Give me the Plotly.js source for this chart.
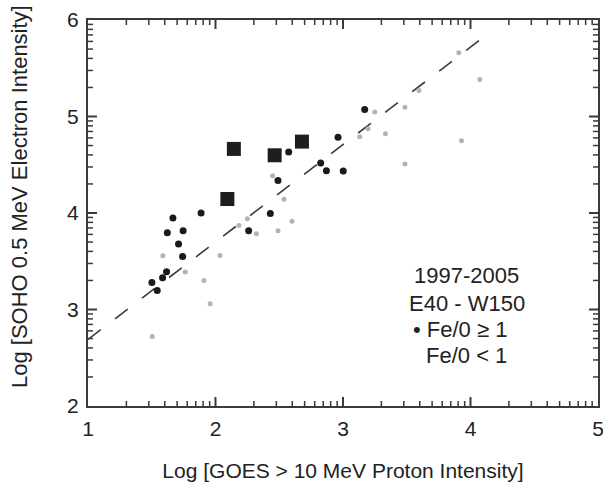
<!DOCTYPE html>
<html>
<head>
<meta charset="utf-8">
<script src="https://cdn.plot.ly/plotly-3.0.1.min.js"></script>
<style>html,body{margin:0;padding:0;background:#fff;}#chart{width:603px;height:492px;}</style>
</head>
<body>
<div id="chart"></div>
<script>
// Fe/O >= 1 (black circles)
const blackX = [1.501, 1.543, 1.585, 1.616, 1.622, 1.666, 1.710, 1.746, 1.742, 1.887, 2.260, 2.430, 2.490, 2.574, 2.825, 2.870, 3.002, 2.961, 3.170];
const blackY = [3.280, 3.197, 3.329, 3.391, 3.796, 3.948, 3.678, 3.816, 3.550, 4.000, 3.816, 3.996, 4.338, 4.633, 4.517, 4.439, 4.434, 4.786, 5.072];
// Fe/O < 1 (grey dots)
const greyX = [1.504, 1.587, 1.763, 1.909, 1.958, 2.035, 2.184, 2.250, 2.320, 2.490, 2.600, 2.537, 2.448, 3.131, 3.196, 3.249, 3.333, 3.486, 3.486, 3.596, 3.908, 3.929, 4.073];
const greyY = [2.720, 3.557, 3.388, 3.301, 3.059, 3.560, 3.871, 3.941, 3.785, 3.816, 3.915, 4.143, 4.387, 4.791, 4.874, 5.046, 4.820, 5.095, 4.508, 5.269, 5.660, 4.750, 5.383];
// large squares
const squareX = [2.093, 2.144, 2.464, 2.678];
const squareY = [4.145, 4.664, 4.598, 4.740];
// dashed fit line
const fitX = [1.0, 4.15];
const fitY = [2.69, 5.87];

const xTickVals = [1, 2, 3, 4, 5];
const yTickVals = [2, 3, 4, 5, 6];
const legendLines = ["1997-2005", "E40 - W150", "\u2022 Fe/0 \u2265 1", "Fe/0 < 1"];
const xTitle = 'Log [GOES > 10 MeV Proton Intensity]';
const yTitle = 'Log [SOHO 0.5 MeV Electron Intensity]';

function logMinor(lo, hi) {
  const v = [];
  for (let n = lo; n < hi; n++) for (let k = 2; k <= 9; k++) v.push(n + Math.log10(k));
  return v;
}

const FONT = 'Liberation Sans, Arial, sans-serif';
const AX = '#3a3a36';
const W = 603, H = 492, M = {l: 88, r: 5, t: 20, b: 86};
const PW = W - M.l - M.r, PH = H - M.t - M.b;

function axis(range, vals, standoff) {
  return {
    range: range, showgrid: false, zeroline: false, showline: true, linecolor: AX, linewidth: 2,
    mirror: true, ticks: '',
    tickfont: {family: FONT, size: 21, color: '#222'},
    tickmode: 'array', tickvals: vals, ticktext: vals.map(String),
    ticklabeloverflow: 'allow', ticklabelstandoff: standoff
  };
}

// inside tick marks on all four sides, placed through the axis scales
function xTickShapes(vals, len, w) {
  const f = len / PH, out = [];
  vals.forEach(v => {
    out.push({type: 'line', layer: 'above', xref: 'x', yref: 'paper', x0: v, x1: v, y0: 0, y1: f, line: {color: AX, width: w}});
    out.push({type: 'line', layer: 'above', xref: 'x', yref: 'paper', x0: v, x1: v, y0: 1, y1: 1 - f, line: {color: AX, width: w}});
  });
  return out;
}
function yTickShapes(vals, len, w) {
  const f = len / PW, out = [];
  vals.forEach(v => {
    out.push({type: 'line', layer: 'above', yref: 'y', xref: 'paper', y0: v, y1: v, x0: 0, x1: f, line: {color: AX, width: w}});
    out.push({type: 'line', layer: 'above', yref: 'y', xref: 'paper', y0: v, y1: v, x0: 1, x1: 1 - f, line: {color: AX, width: w}});
  });
  return out;
}

const traces = [
  {x: fitX, y: fitY, mode: 'lines', line: {color: AX, width: 1.6, dash: '16px,18px'}, hoverinfo: 'skip'},
  {x: greyX, y: greyY, mode: 'markers', marker: {color: '#b3b3b3', size: 5}},
  {x: blackX, y: blackY, mode: 'markers', marker: {color: '#1a1a1a', size: 7}},
  {x: squareX, y: squareY, mode: 'markers', marker: {color: '#1e1e1e', size: 14, symbol: 'square'}}
];

const xaxis = axis([1, 5], xTickVals, 3);
xaxis.title = {text: xTitle, font: {family: FONT, size: 21, color: '#222'}, standoff: 24};
const yaxis = axis([2, 6], yTickVals, 3);

const shapes = []
  .concat(xTickShapes(xTickVals.slice(1, -1), 9, 2))
  .concat(xTickShapes(logMinor(1, 5), 5, 1.5))
  .concat(yTickShapes(yTickVals.slice(1, -1), 9, 2))
  .concat(yTickShapes(logMinor(2, 6), 5, 1.5));

const layout = {
  width: W, height: H,
  margin: M,
  paper_bgcolor: '#fff', plot_bgcolor: '#fff',
  showlegend: false,
  xaxis: xaxis,
  yaxis: yaxis,
  shapes: shapes,
  annotations: legendLines.map((t, i) => ({
    text: t, xref: 'paper', yref: 'paper',
    x: i < 2 ? 0.743 : 0.825, xanchor: i < 2 ? 'center' : 'right',
    y: [0.3368, 0.2668, 0.1969, 0.1321][i],
    yanchor: 'middle', showarrow: false,
    font: {family: FONT, size: 22, color: '#222'}
  })).concat([{
    text: yTitle, xref: 'paper', yref: 'paper', x: -0.1333, y: 0.5415,
    xanchor: 'center', yanchor: 'middle', textangle: -90, showarrow: false,
    font: {family: FONT, size: 22, color: '#222'}
  }])
};

Plotly.newPlot('chart', traces, layout, {displayModeBar: false});
</script>
</body>
</html>
